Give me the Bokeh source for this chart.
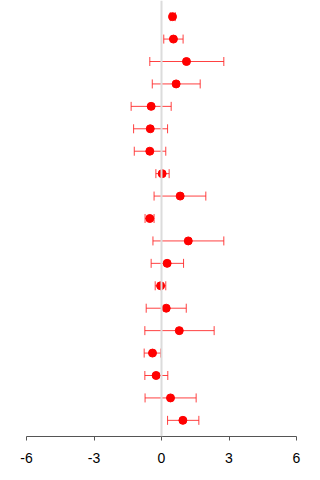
from bokeh.plotting import figure
from bokeh.models import Range1d, ColumnDataSource, Whisker, TeeHead, Span, FixedTicker
from bokeh.embed import file_html
from bokeh.resources import INLINE

# Point estimates with lower / upper interval bounds, listed top row first
estimate = [0.49, 0.53, 1.11, 0.65, -0.46, -0.50, -0.52, 0.03, 0.83, -0.52,
            1.19, 0.25, -0.04, 0.21, 0.79, -0.40, -0.24, 0.40, 0.95]
lower = [0.39, 0.10, -0.52, -0.41, -1.35, -1.24, -1.21, -0.25, -0.33, -0.73,
         -0.38, -0.46, -0.28, -0.68, -0.74, -0.77, -0.74, -0.73, 0.27]
upper = [0.61, 0.96, 2.77, 1.72, 0.43, 0.27, 0.19, 0.34, 1.97, -0.33,
         2.77, 0.98, 0.19, 1.10, 2.34, -0.03, 0.28, 1.54, 1.66]
x_ticks = [-6, -3, 0, 3, 6]
x_tick_labels = ["-6", "-3", "0", "3", "6"]

n = len(estimate)
row = list(range(n, 0, -1))

src = ColumnDataSource(dict(y=row, est=estimate, lo=lower, hi=upper))

p = figure(width=320, height=480, output_backend="svg", toolbar_location=None,
           x_range=Range1d(-6, 6), y_range=Range1d(0.28, n + 0.72),
           y_axis_location=None, min_border_left=26, min_border_right=24,
           min_border_top=0, min_border_bottom=44)
p.outline_line_color = None
p.xgrid.visible = False
p.ygrid.visible = False
p.background_fill_color = "white"
p.border_fill_color = "white"

# reference line at zero
p.add_layout(Span(location=0, dimension="height", line_color="#dcdcdc", line_width=2))

# interval bars with end caps
whisk = Whisker(source=src, base="y", lower="lo", upper="hi", dimension="width",
                line_color="#ff2020", line_width=1, line_alpha=0.85,
                lower_head=TeeHead(size=9, line_color="#ff2020", line_width=1, line_alpha=0.85),
                upper_head=TeeHead(size=9, line_color="#ff2020", line_width=1, line_alpha=0.85))
p.add_layout(whisk)

p.scatter("est", "y", source=src, size=8, color="#ff0000")

ax = p.xaxis[0]
ax.ticker = FixedTicker(ticks=x_ticks)
ax.major_label_overrides = {t: s for t, s in zip(x_ticks, x_tick_labels)}
ax.axis_line_color = "#555555"
ax.major_tick_line_color = "#555555"
ax.major_tick_in = 0
ax.major_tick_out = 4
ax.minor_tick_line_color = None
ax.major_label_text_font = "Liberation Sans"
ax.major_label_text_font_size = "14px"
ax.major_label_text_color = "black"
ax.major_label_standoff = 12

open("out.html", "w").write(file_html(p, INLINE))
